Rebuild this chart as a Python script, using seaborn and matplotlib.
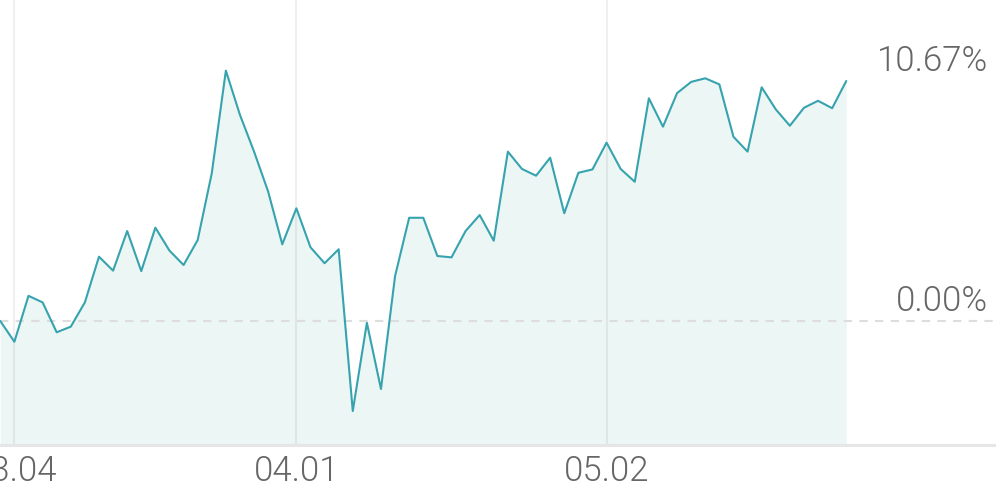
import matplotlib
matplotlib.use("Agg")
import matplotlib.pyplot as plt
import seaborn as sns
import numpy as np
import pandas as pd

# cumulative return (%) per trading day
returns = [0.00, -0.92, 1.12, 0.83, -0.50, -0.25, 0.83, 2.86, 2.24, 4.00,
           2.22, 4.15, 3.13, 2.49, 3.60, 6.57, 11.13, 9.16, 7.53, 5.75,
           3.41, 5.01, 3.28, 2.57, 3.19, -4.00, -0.08, -3.02, 2.00, 4.59,
           4.59, 2.89, 2.83, 4.00, 4.71, 3.57, 7.53, 6.76, 6.46, 7.26,
           4.79, 6.59, 6.74, 7.93, 6.76, 6.19, 9.90, 8.64, 10.13, 10.63,
           10.79, 10.52, 8.19, 7.53, 10.39, 9.41, 8.68, 9.48, 9.79, 9.46,
           10.67]
tick_pos = [1, 21, 43]
tick_labels = ["03.04", "04.01", "05.02"]
ref_levels = [10.67, 0.00]
ref_labels = ["10.67%", "0.00%"]

df = pd.DataFrame({"day": np.arange(len(returns)), "ret": returns})

sns.set_style("white")
plt.rcParams["font.family"] = ["Roboto", "DejaVu Sans"]

line_col = "#36a3ae"
fill_col = "#ecf6f5"
text_col = "#666666"

fig = plt.figure(figsize=(9.96, 4.9), dpi=100)
ax = fig.add_axes([0, 45 / 490, 1, 445 / 490])

ymin, ymax = -5.51, 14.27
ax.fill_between(df["day"], df["ret"], ymin, color=fill_col, lw=0, zorder=1)

for p in tick_pos:
    ax.axvline(p, color="black", alpha=0.06, lw=1.5, zorder=2)

ax.axhline(0, color="#dddddd", lw=1.5, ls=(0, (4, 3.5)), zorder=2)

sns.lineplot(data=df, x="day", y="ret", color=line_col, lw=1.5, ax=ax, zorder=3)

ax.set_xlim(-0.02, 70.62)
ax.set_ylim(ymin, ymax)

ax.set_xticks(tick_pos, tick_labels)
ax.set_yticks([])
ax.tick_params(axis="x", length=0, pad=6.5, labelsize=25, labelcolor=text_col)
for lab in ax.get_xticklabels():
    lab.set_fontweight(300)
ax.set_xlabel("")
ax.set_ylabel("")

for s in ["top", "left", "right"]:
    ax.spines[s].set_visible(False)
ax.spines["bottom"].set_color("#e6e6e6")
ax.spines["bottom"].set_linewidth(2.2)

for v, lab in zip(ref_levels, ref_labels):
    ax.annotate(lab, xy=(1, v), xycoords=("axes fraction", "data"),
                xytext=(-8, 10), textcoords="offset pixels",
                ha="right", va="baseline", fontsize=25,
                fontweight=300, color=text_col)

fig.savefig("out.png", dpi=100)
